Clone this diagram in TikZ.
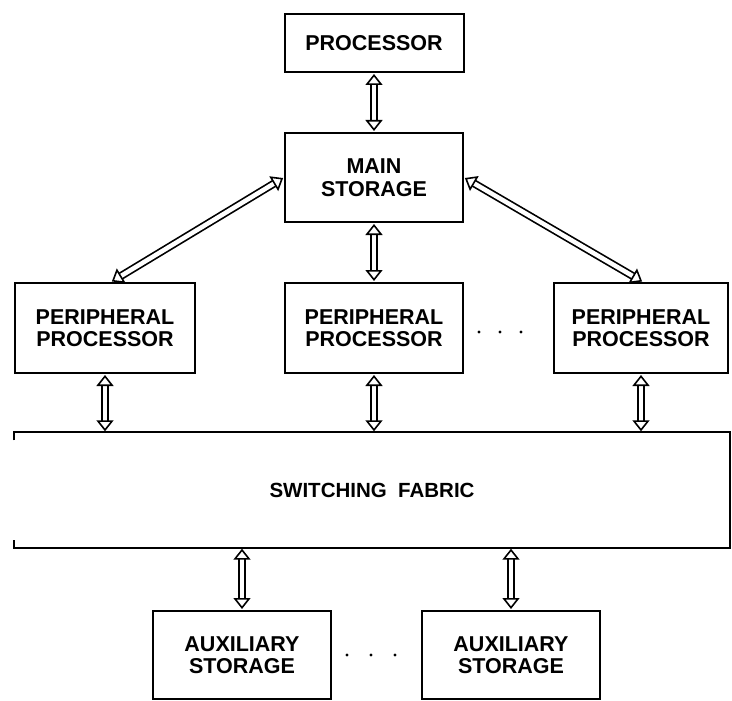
\documentclass[tikz,border=0pt]{standalone}
\usepackage{fontspec}
\setmainfont{Liberation Sans}
\usetikzlibrary{arrows.meta}
\tikzset{
  hd/.tip={Triangle[open, length=11pt, width=17pt, line width=1.6pt]},
  blk/.style={draw=black, line width=2pt, rectangle, align=center, inner sep=0pt,
    font=\fontsize{21.5}{22.5}\selectfont\bfseries},
  dbl/.style={double=white, double distance=4.5pt, line width=1.7pt, draw=black,
    hd-hd, shorten <=1pt, shorten >=1pt},
  bus/.style={line width=2pt, draw=black},
  dot/.style={circle, fill=black, inner sep=0pt, minimum size=3.2pt}
}
\begin{document}
\begin{tikzpicture}[x=1pt, y=-1pt]
\useasboundingbox (0,0) rectangle (732,701);
\node[blk, minimum width=179pt, minimum height=58pt] (proc) at (374,43) {PROCESSOR};
\node[blk, minimum width=178pt, minimum height=89pt] (main) at (374,177.5) {MAIN\\STORAGE};
\node[blk, minimum width=180pt, minimum height=90pt] (pp1) at (105,328) {PERIPHERAL\\PROCESSOR};
\node[blk, minimum width=178pt, minimum height=90pt] (pp2) at (374,328) {PERIPHERAL\\PROCESSOR};
\node[blk, minimum width=174pt, minimum height=90pt] (pp3) at (641,328) {PERIPHERAL\\PROCESSOR};
\node[blk, minimum width=178pt, minimum height=88pt] (aux1) at (242,655) {AUXILIARY\\STORAGE};
\node[blk, minimum width=178pt, minimum height=88pt] (aux2) at (511,655) {AUXILIARY\\STORAGE};
\node[rectangle, inner sep=0pt, minimum width=716pt, minimum height=115pt,
  font=\fontsize{20.5}{22}\selectfont\bfseries] (sf) at (372,490) {SWITCHING\ \ FABRIC};
% bus outline
\draw[bus] ([yshift=-8pt]sf.north west) -- (sf.north west) -- (sf.north east) -- (sf.south east) -- (sf.south west) -- ++(0,-8);
% dots
\node[dot] (d1) at (479,332) {};
\node[dot] (d2) at (500,332) {};
\node[dot] (d3) at (521,332) {};
\node[dot] (d4) at (347,655) {};
\node[dot] (d5) at (371,655) {};
\node[dot] (d6) at (395,655) {};
% coordinates on bus
\coordinate (b1) at (pp1.south |- sf.north);
\coordinate (b2) at (pp2.south |- sf.north);
\coordinate (b3) at (pp3.south |- sf.north);
\coordinate (b4) at (aux1.north |- sf.south);
\coordinate (b5) at (aux2.north |- sf.south);
% connectors
\draw[dbl] (proc.south) -- (main.north);
\draw[dbl] (main.south) -- (pp2.north);
\draw[dbl] (main.west) -- ([xshift=6pt]pp1.north);
\draw[dbl] (main.east) -- ([xshift=2pt]pp3.north);
\draw[dbl] (pp1.south) -- (b1);
\draw[dbl] (pp2.south) -- (b2);
\draw[dbl] (pp3.south) -- (b3);
\draw[dbl] (b4) -- (aux1.north);
\draw[dbl] (b5) -- (aux2.north);
\end{tikzpicture}
\end{document}
